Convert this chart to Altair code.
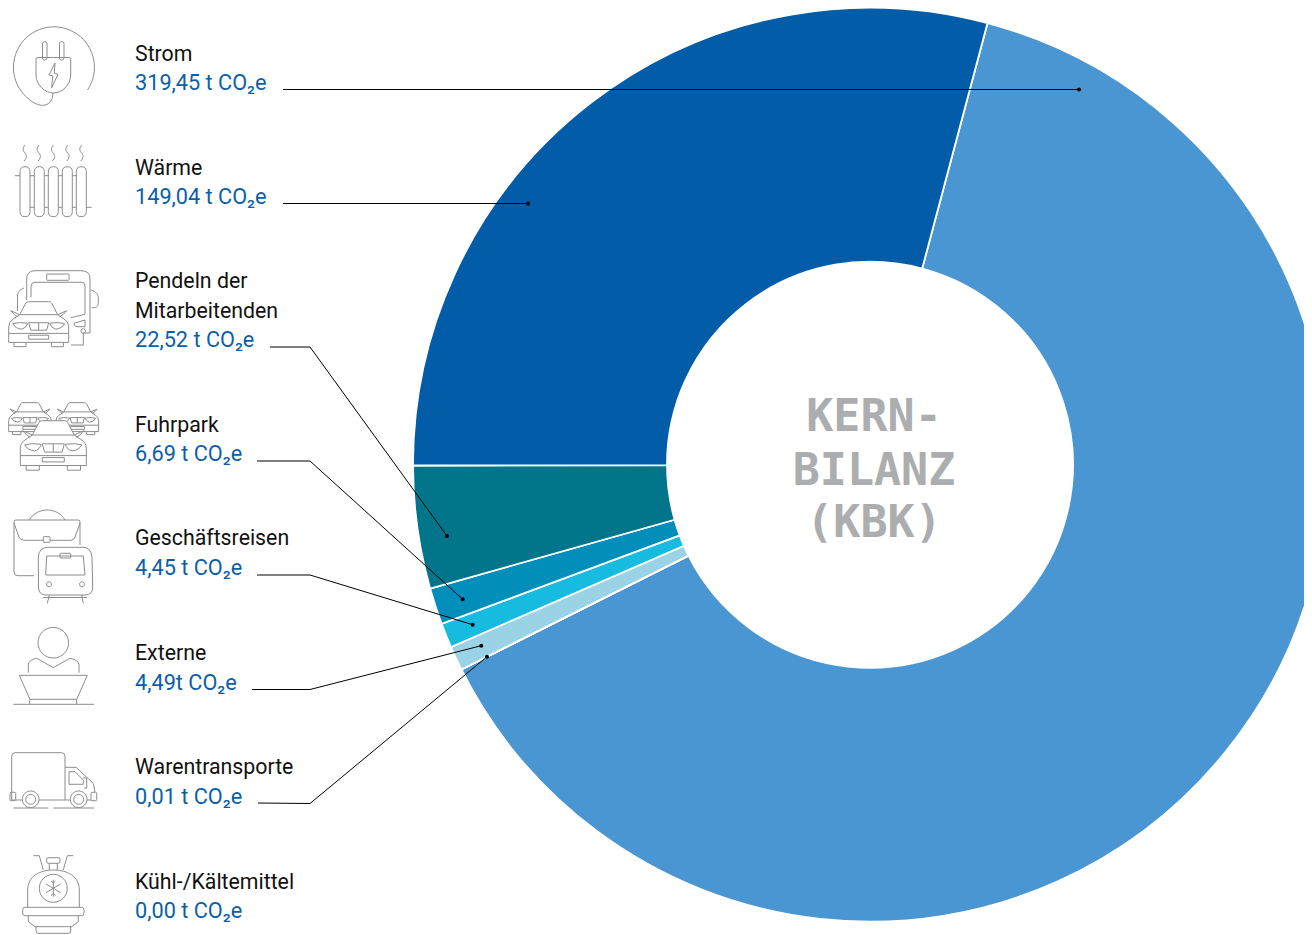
import math
import altair as alt
import pandas as pd

# ---- data ----
slice_names = ["Strom", "Kühl-/Kältemittel", "Warentransporte", "Externe", "Geschäftsreisen",
               "Fuhrpark", "Pendeln der Mitarbeitenden", "Wärme"]
slice_values = [321.6, 0.0, 0.01, 4.36, 4.42, 6.54, 22.0, 147.8]
slice_colors = ["#4A96D2", "#9AD3E5", "#9AD3E5", "#9AD3E5", "#18BBE0", "#028EBA", "#017589", "#025CA8"]

name_lines = ["Strom", "Wärme", "Pendeln der", "Mitarbeitenden", "Fuhrpark", "Geschäftsreisen",
              "Externe", "Warentransporte", "Kühl-/Kältemittel"]
name_y = [60.7, 175, 288, 317.5, 431.7, 545, 660, 774.3, 889]
value_lines = ["319,45 t CO₂e", "149,04 t CO₂e", "22,52 t CO₂e", "6,69 t CO₂e", "4,45 t CO₂e",
               "4,49t CO₂e", "0,01 t CO₂e", "0,00 t CO₂e"]
value_y = [89.5, 204, 347, 460.7, 575, 690, 803.5, 918]
centre_lines = ["KERN-", "BILANZ", "(KBK)"]
centre_y = [431, 484.5, 537]

leader_id = [0, 0, 1, 1, 2, 2, 2, 3, 3, 3, 4, 4, 4, 5, 5, 5, 6, 6, 6]
leader_x = [283, 1079, 283, 528, 270, 310, 447, 257, 310, 462.7, 257, 310, 472.7, 252, 310, 481.3, 258, 310, 487]
leader_y = [89.5, 89.5, 203.5, 203.5, 347, 347, 536, 461, 461, 599.3, 575, 575, 624.7, 689.5, 689.5, 645.7,
            803, 803.5, 656.7]
leader_end = [1, 3, 6, 9, 12, 15, 18]


def circle(cx, cy, r):
    return f"M{cx - r} {cy} A{r} {r} 0 1 0 {cx + r} {cy} A{r} {r} 0 1 0 {cx - r} {cy} Z"


def rrect(x0, y0, x1, y1, r):
    return (f"M{x0 + r} {y0} H{x1 - r} Q{x1} {y0} {x1} {y0 + r} V{y1 - r} Q{x1} {y1} {x1 - r} {y1} "
            f"H{x0 + r} Q{x0} {y1} {x0} {y1 - r} V{y0 + r} Q{x0} {y0} {x0 + r} {y0} Z")


def car(cx, top, s):
    def p(x, y):
        return f"{cx + x * s:.1f} {top + y * s:.1f}"
    parts = []
    for m in (-1, 1):
        parts.append(f"M{p(m * 19, 13)} L{p(m * 28, 9)} Q{p(m * 24, 14)} {p(m * 21, 15)}")
        parts.append(f"M{p(m * 24.7, 40.7)} V{top + 45 * s:.1f} H{cx + m * 12.7 * s:.1f} V{top + 40.7 * s:.1f}")
        parts.append(f"M{p(m * 11, 21.5)} Q{p(m * 20, 20)} {p(m * 26, 22)} Q{p(m * 23, 27)} {p(m * 17, 27.5)} "
                     f"Q{p(m * 12, 26)} {p(m * 11, 21.5)} Z")
    body = (f"M{p(-30, 40.7)} V{top + 25 * s:.1f} Q{p(-30, 20)} {p(-25, 17)} L{p(-19, 13)} L{p(-13, 1.5)} "
            f"Q{p(-12, 0)} {p(-10, 0)} H{cx + 10 * s:.1f} Q{p(12, 0)} {p(13, 1.5)} L{p(19, 13)} L{p(25, 17)} "
            f"Q{p(30, 20)} {p(30, 25)} V{top + 40.7 * s:.1f} Z")
    cabin = f"M{p(-19, 13)} H{cx + 19 * s:.1f}"
    bumper = f"M{p(-30, 31.7)} H{cx + 30 * s:.1f}"
    grille = (f"M{p(-10, 21)} H{cx + 10 * s:.1f} L{p(8, 28.5)} H{cx - 8 * s:.1f} Z "
              f"M{p(0, 21)} V{top + 28.5 * s:.1f}")
    plate = f"M{p(-10, 33.5)} H{cx + 10 * s:.1f} V{top + 37.5 * s:.1f} H{cx - 10 * s:.1f} Z"
    return " ".join([body, cabin, bumper, grille, plate] + parts)


plug = ("M87.5 90 A40.5 40.5 0 1 0 30 100 C36 105 42 106 45 105 C50 104 53 99 53 93 "
        + rrect(42.5, 41.7, 47, 60, 2) + " " + rrect(59.5, 41.7, 64, 60, 2) + " "
        + "M36 59 Q36 57.5 38 57.5 H68.5 Q70.7 57.5 70.7 59 V75 C70.7 85 62 93 53.5 93 C45 93 36 85 36 75 Z "
        + "M55 63 L49 75 L52.7 75.7 L51.7 87.7 L58 74.3 L54.3 73.3 Z")
radiator = " ".join(
    [rrect(x, 166.7, x + 10, 216.7, 5) for x in (20, 34.3, 48.3, 62.3, 76.3)]
    + [f"M{x} 145 C{x - 3} 149 {x - 2} 151 {x} 153 C{x + 2} 155 {x + 2} 158 {x - 1} 161" for x in (25, 39, 53.3, 67.7, 81.7)]
    + ["M15 175.7 H20 M30 175.7 H34.3 M44.3 175.7 H48.3 M58.3 175.7 H62.3 M72.3 175.7 H76.3",
       "M30 207.3 H34.3 M44.3 207.3 H48.3 M58.3 207.3 H62.3 M72.3 207.3 H76.3 M86.3 207.3 H91.7"])
bus = ("M26.7 300 V279 Q26.7 270.7 35 270.7 H81 Q90 270.7 90 279 V333 L83.3 333 V345 H71 "
       "M31 297 V287 Q31 282.3 35 282.3 H81.7 Q85 282.3 85 286 V314.3 L71 317.7 "
       + rrect(46.7, 274, 69, 280.3, 0.5)
       + " M24 288 C19 290 17.5 293 17.5 296 V311 M90.7 290 C96 291 98.3 295 98.3 298 V303 C98.3 307 96 308 91.7 307.5 "
       + "M74 323.3 L85 320 V326.7 H77 Q73 326 74 323.3 Z " + circle(83.3, 331, 2.3))
suitcase = ("M29.3 520 C33 513 41 510 47 510 C54 510 61 513 65 520 "
            "M80 545 V522 Q80 520 78 520 H16 Q14 520 14 522 V572 Q14 575.7 18 575.7 H34 "
            "M14 523 L19 537 Q20 540 24 540.3 H43.3 M50 540.3 H71 Q74 540 75 537 L80 523 "
            + rrect(43.3, 536.7, 50, 542.3, 0.5))
train = ("M38.3 557 Q39 547.3 48 547.3 H83 Q91 547.3 92 557 L92.7 587 Q92.7 595 85 595 H46 Q39 595 38.5 588 Z "
         "M46.7 556 H83.3 L85 575 H45.7 Z " + rrect(60, 553.3, 70.7, 558, 0.5) + " "
         + circle(49, 584.3, 2.5) + " " + circle(82, 584.3, 2.5)
         + " M49.3 595 L47.3 603.3 M81.7 595 L83.3 603.3 M43 597.5 H87")
person = (circle(53.3, 642.7, 15.3) + " M28.3 672.7 V665 Q28.3 660 36.7 658.3 L53.3 667.7 L70 658.3 "
          "Q79 660 79 665 V672.7 M19.3 675.3 H87.3 L76.7 699.3 H30 Z M29.7 699.3 V704 M76.7 699.3 V704 M13.3 704.3 H94")
truck = ("M15.7 800 H11.7 V756.7 Q11.7 752.7 15 752.7 H61.7 Q65 752.7 65 756.7 V800 "
         "M65 767.3 H76 L93.3 783.3 L95 792.3 M69 771.7 H75 L83.3 780 V784.3 H69 Z M83.3 778 H86.7 V788 H84 "
         + rrect(10, 792.3, 15.7, 800.7, 1) + " " + rrect(91, 792.3, 96.7, 800.7, 1)
         + " M15.7 800 H22.5 M39 800 H70 M87 800 H91 "
         + circle(30.7, 799.3, 8.3) + " " + circle(30.7, 799.3, 5) + " "
         + circle(78.7, 799.3, 8.3) + " " + circle(78.7, 799.3, 5)
         + " M13.3 808 H48.3 M53.3 808 H94")
bottle = ("M33.3 855.7 H39.3 L43.3 870 M73.3 855.7 H67.3 L63.3 870 "
          + rrect(46.7, 857.7, 60, 863.3, 1.5) + " M49.3 863.3 V870 M57.3 863.3 V870 "
          "M27.7 907.3 V890 C27.7 876 40 870 53.3 870 C67 870 79.3 876 79.3 890 V907.3 "
          + rrect(22.7, 907.3, 84, 915.7, 2.5)
          + " M28.3 915.7 V921.7 L35 926.7 H71.7 L78.3 921.7 V915.7 M36 926.7 V931 Q36 933.3 38 933.3 H68.7 Q70.7 933.3 70.7 931 V926.7 "
          + circle(53.3, 888.3, 14)
          + " M53.3 879.8 V896.8 M46 884 L60.6 892.6 M46 892.6 L60.6 884 "
            "M51 881 L53.3 883 L55.6 881 M51 895.6 L53.3 893.6 L55.6 895.6")
icon_paths = [plug, radiator, bus, car(38.7, 301.7, 1.0), car(30, 402.7, 0.71), car(77.3, 402.7, 0.71),
              car(53.3, 420.7, 1.1), suitcase, train, person, truck, bottle]

# ---- tables ----
slices = pd.DataFrame({"name": slice_names, "value": slice_values, "i": range(len(slice_names))})
names = pd.DataFrame({"x": 135, "y": name_y, "t": name_lines})
values = pd.DataFrame({"x": 135, "y": value_y, "t": value_lines})
centre = pd.DataFrame({"x": 874, "y": centre_y, "t": centre_lines})
leaders = pd.DataFrame({"id": leader_id, "x": leader_x, "y": leader_y, "i": range(len(leader_x))})
dots = leaders.iloc[leader_end]
icons = pd.DataFrame({"x": 0, "y": 0, "p": icon_paths})

# screen pixels map straight onto the plot (page margin 8 px)
sx = alt.Scale(domain=[8, 1304], range=[0, 1296], nice=False, zero=False)
sy = alt.Scale(domain=[8, 935], range=[0, 927], nice=False, zero=False)
X = alt.X("x:Q", scale=sx, axis=None)
Y = alt.Y("y:Q", scale=sy, axis=None)

start = math.radians(14.9)
ring = alt.Chart(slices).mark_arc(radius=457, radius2=203, stroke="white", strokeWidth=1.8).encode(
    theta=alt.Theta("value:Q", stack=True, scale=alt.Scale(range=[start, start + 2 * math.pi])),
    color=alt.Color("name:N", scale=alt.Scale(domain=slice_names, range=slice_colors), legend=None),
    order=alt.Order("i:Q"),
    x=alt.value(870 - 8),
    y=alt.value(464.7 - 8),
)
lines = alt.Chart(leaders).mark_line(color="#000000", strokeWidth=1).encode(
    x=X, y=Y, detail="id:N", order="i:Q")
ends = alt.Chart(dots).mark_point(filled=True, color="#000000", size=16, opacity=1).encode(x=X, y=Y)
glyphs = alt.Chart(icons).mark_point(filled=True, fill="white", stroke="#8c8c8c", strokeWidth=1,
                                     size=4, opacity=1).encode(
    x=X, y=Y, shape=alt.Shape("p:N", scale=None))

FONT = "Roboto"
name_text = alt.Chart(names).mark_text(align="left", baseline="alphabetic", font=FONT, fontSize=21.3,
                                       color="#111111").encode(x=X, y=Y, text="t:N")
value_text = alt.Chart(values).mark_text(align="left", baseline="alphabetic", font=FONT, fontSize=21.7,
                                         color="#0B5FAA").encode(x=X, y=Y, text="t:N")
centre_text = alt.Chart(centre).mark_text(align="center", baseline="alphabetic", font="DejaVu Sans Mono",
                                          fontWeight="bold", fontSize=45, color="#ABADAF").encode(
    x=X, y=Y, text="t:N")

chart = alt.layer(ring, lines, ends, glyphs, name_text, value_text, centre_text).properties(
    width=1296, height=927, padding=0, background="white",
    autosize=alt.AutoSizeParams(type="none", contains="padding"),
).configure_view(stroke=None)
chart.save("out.html", embed_options={"renderer": "svg", "actions": False})
